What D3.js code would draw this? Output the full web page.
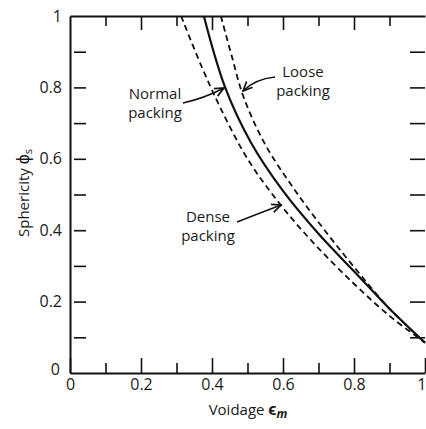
<!DOCTYPE html>
<html>
<head>
<meta charset="utf-8">
<script src="https://cdn.jsdelivr.net/npm/d3@7"></script>
<style>
  body { margin: 0; background: #fff; }
  svg { display: block; }
  .lbl { font-family: "Open Sans", sans-serif; font-size: 15px; fill: #1a1a1a; }
  .tick text { font-family: "Open Sans", sans-serif; font-size: 16px; fill: #1a1a1a; }
</style>
</head>
<body>
<div id="chart"></div>
<script>
// chart size
const width = 426;
const height = 429;
const margin = {left: 70, right: 1, top: 16, bottom: 56};

// curves: voidage (x) vs sphericity (y)
const normalVoid = [0.377, 0.437, 0.51,  0.60, 0.70, 0.80,  0.90, 1.0];
const normalSph  = [1.0,   0.80,  0.645, 0.51, 0.39, 0.285, 0.18, 0.085];

const denseVoid = [0.313, 0.37, 0.425, 0.50, 0.59,  0.69, 0.80, 0.90, 1.0];
const denseSph  = [1.0,   0.86, 0.74,  0.60, 0.475, 0.36, 0.25, 0.16, 0.085];

const looseVoid = [0.425, 0.455, 0.49, 0.55, 0.635, 0.725, 0.81,  0.90, 1.0];
const looseSph  = [1.0,   0.89,  0.77, 0.64, 0.51,  0.39,  0.285, 0.18, 0.085];

// tick values
const majorTicks = [0, 0.2, 0.4, 0.6, 0.8, 1];
const minorTicks = [0.1, 0.3, 0.5, 0.7, 0.9];
const allTicks = d3.range(0, 11).map(i => i / 10);

const svg = d3.select("#chart")
  .append("svg")
  .attr("width", width)
  .attr("height", height);

const x = d3.scaleLinear()
  .domain([0, 1])
  .range([margin.left, width - margin.right]);

const y = d3.scaleLinear()
  .domain([0, 1])
  .range([height - margin.bottom, margin.top]);

const fmt = d => (d === 0 || d === 1) ? String(d) : d.toFixed(1);

// bottom axis, labelled major ticks
const xMajor = svg.append("g")
  .attr("transform", `translate(0,${y(0)})`)
  .call(d3.axisBottom(x).tickValues(majorTicks).tickSize(-15).tickSizeOuter(0).tickPadding(6).tickFormat(fmt));
// last label sits at the right edge
xMajor.selectAll(".tick").filter(d => d === 1).select("text").attr("text-anchor", "end").attr("x", 1);
svg.append("g")
  .attr("transform", `translate(0,${y(0)})`)
  .call(d3.axisBottom(x).tickValues(minorTicks).tickSize(-10).tickFormat(""))
  .select(".domain").remove();

// top axis
svg.append("g")
  .attr("transform", `translate(0,${y(1)})`)
  .call(d3.axisTop(x).tickValues(majorTicks.slice(1, 5)).tickSize(-14).tickSizeOuter(0).tickFormat(""));
svg.append("g")
  .attr("transform", `translate(0,${y(1)})`)
  .call(d3.axisTop(x).tickValues(minorTicks).tickSize(-10).tickFormat(""))
  .select(".domain").remove();

// left axis
const yLeft = svg.append("g")
  .attr("transform", `translate(${x(0)},0)`)
  .call(d3.axisLeft(y).tickValues(allTicks).tickSize(-16).tickSizeOuter(0).tickPadding(8)
    .tickFormat(d => majorTicks.some(m => Math.abs(m - d) < 1e-9) ? fmt(d) : ""));
yLeft.selectAll(".tick line").attr("x1", 4);
yLeft.selectAll(".tick")
  .filter(d => d === 0 || d === 1)
  .select("line").remove();
yLeft.selectAll(".tick")
  .filter(d => d === 0)
  .select("text").attr("dy", "0.1em").attr("x", -10);

// right ticks
svg.append("g")
  .attr("transform", `translate(${x(1)},0)`)
  .call(d3.axisRight(y).tickValues(allTicks.slice(1, 10)).tickSize(-15).tickSizeOuter(0).tickFormat(""))
  .select(".domain").remove();

svg.selectAll(".domain").attr("stroke", "#111").attr("stroke-width", 2);
svg.selectAll(".tick line").attr("stroke", "#111").attr("stroke-width", 1.6);

// curves
const line = d3.line()
  .x(d => x(d[0]))
  .y(d => y(d[1]))
  .curve(d3.curveCatmullRom.alpha(0.5));

const curves = [
  {vx: denseVoid, vy: denseSph, dash: "6,4", w: 1.8},
  {vx: looseVoid, vy: looseSph, dash: "6,4", w: 1.8},
  {vx: normalVoid, vy: normalSph, dash: null, w: 2.2}
];

svg.selectAll(".curve")
  .data(curves)
  .enter()
  .append("path")
    .attr("class", "curve")
    .attr("d", c => line(d3.zip(c.vx, c.vy)))
    .attr("fill", "none")
    .attr("stroke", "#111")
    .attr("stroke-width", c => c.w)
    .attr("stroke-dasharray", c => c.dash);

// arrow heads
svg.append("defs").append("marker")
  .attr("id", "arr")
  .attr("viewBox", "0 0 10 10")
  .attr("refX", 9).attr("refY", 5)
  .attr("markerWidth", 7).attr("markerHeight", 7)
  .attr("orient", "auto")
  .append("path")
    .attr("d", "M0,1 L9,5 L0,9")
    .attr("fill", "none")
    .attr("stroke", "#111")
    .attr("stroke-width", 1.6);

// curve labels with pointers
const notes = [
  {lines: ["Normal", "packing"], tx: 155, ty: [99, 118], from: [183, 103], ctrl: [205, 98], to: [224, 88]},
  {lines: ["Loose", "packing"], tx: 303, ty: [77, 96], from: [275, 77], ctrl: [255, 79], to: [243, 91]},
  {lines: ["Dense", "packing"], tx: 208, ty: [222, 241], from: [237, 222], ctrl: [260, 213], to: [281, 205]}
];

notes.forEach(n => {
  n.lines.forEach((s, i) => {
    svg.append("text")
      .attr("class", "lbl")
      .attr("text-anchor", "middle")
      .attr("x", n.tx).attr("y", n.ty[i])
      .text(s);
  });
  svg.append("path")
    .attr("d", `M${n.from[0]},${n.from[1]} Q${n.ctrl[0]},${n.ctrl[1]} ${n.to[0]},${n.to[1]}`)
    .attr("fill", "none")
    .attr("stroke", "#111")
    .attr("stroke-width", 1.5)
    .attr("marker-end", "url(#arr)");
});

// axis titles
const xt = svg.append("text")
  .attr("class", "lbl")
  .attr("text-anchor", "middle")
  .attr("x", 248).attr("y", 415);
xt.append("tspan").text("Voidage  ");
xt.append("tspan").attr("font-weight", "bold").attr("font-size", "17px").text("ϵ");
xt.append("tspan").attr("font-style", "italic").attr("font-weight", "bold").attr("font-size", "12px").attr("dy", 3).text("m");

const yt = svg.append("text")
  .attr("class", "lbl")
  .attr("font-size", "16px")
  .attr("text-anchor", "middle")
  .attr("transform", `translate(29,193) rotate(-90)`);
yt.append("tspan").text("Sphericity ");
yt.append("tspan").attr("font-size", "18px").text("ϕ");
yt.append("tspan").attr("font-size", "11px").attr("dy", 3).text("s");
</script>
</body>
</html>
